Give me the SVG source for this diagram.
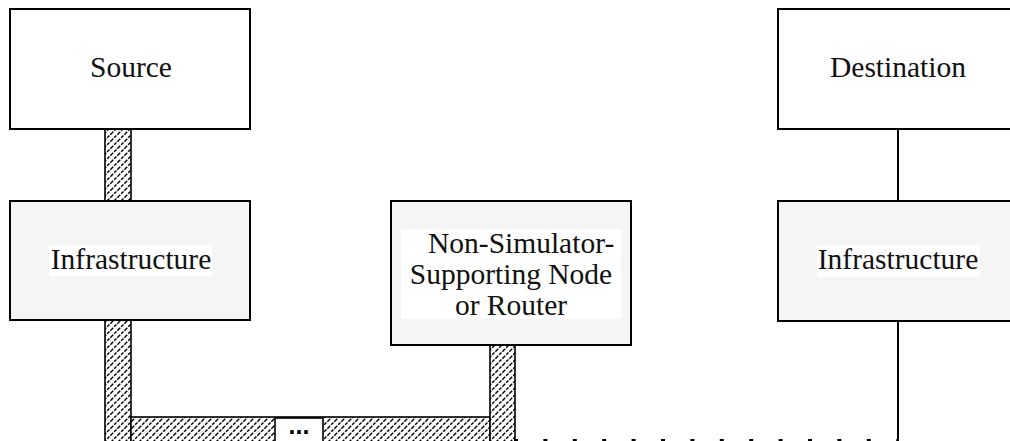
<svg xmlns="http://www.w3.org/2000/svg" width="1010" height="441" viewBox="0 0 1010 441">
  <style>
    .box { stroke: #000; stroke-width: 2; }
    .host { fill: #ffffff; }
    .infra { fill: #f5f5f5; }
    .label { font-family: "Liberation Serif", "Times New Roman", serif; font-size: 29.5px; fill: #111; }
    .mid { text-anchor: middle; }
    .labelbg { fill: #ffffff; }
    .hatch { fill: url(#diag); stroke: #000; stroke-width: 1.6; }
    .wire { stroke: #000; stroke-width: 2; fill: none; }
  </style>
  <defs>
    <!-- diagonal hatching used for the shared links -->
    <pattern id="diag" patternUnits="userSpaceOnUse" width="7" height="7">
      <rect width="7" height="7" fill="#fff"/>
      <path d="M-1,8 L8,-1 M-4.5,4.5 L4.5,-4.5 M2.5,11.5 L11.5,2.5" stroke="#000" stroke-width="1.4" stroke-dasharray="3.2 1.3"/>
    </pattern>
  </defs>

  <!-- connectors -->
  <g id="connectors">
    <rect class="hatch" x="105" y="129" width="26" height="72"/>
    <rect class="hatch" x="105" y="320" width="26" height="124"/>
    <rect class="hatch" x="131" y="417" width="359" height="27"/>
    <rect class="hatch" x="490" y="345" width="25" height="99"/>
    <g id="ellipsis">
      <rect x="275" y="418" width="48" height="26" fill="#fff" stroke="#000" stroke-width="1.6"/>
      <text x="299" y="434" text-anchor="middle" font-family="Liberation Sans, Arial, sans-serif" font-weight="bold" font-size="25">...</text>
    </g>
    <line class="wire" x1="514" y1="440" x2="898" y2="440" stroke-width="3" stroke-dasharray="4 25.4"/>
    <line class="wire" x1="898" y1="129" x2="898" y2="201"/>
    <line class="wire" x1="898" y1="321" x2="898" y2="441"/>
  </g>

  <g id="source">
    <rect class="box host" x="10" y="9" width="240" height="120"/>
    <text class="label mid" x="131" y="77">Source</text>
  </g>

  <g id="destination">
    <rect class="box host" x="778" y="9" width="240" height="120"/>
    <text class="label mid" x="898" y="77">Destination</text>
  </g>

  <g id="infra-left">
    <rect class="box infra" x="10" y="201" width="240" height="119"/>
    <rect class="labelbg" x="49" y="245" width="163" height="31"/>
    <text class="label mid" x="131" y="269">Infrastructure</text>
  </g>

  <g id="infra-right">
    <rect class="box infra" x="778" y="201" width="240" height="120"/>
    <rect class="labelbg" x="817" y="245" width="163" height="32"/>
    <text class="label mid" x="898" y="269">Infrastructure</text>
  </g>

  <g id="router">
    <rect class="box infra" x="391" y="201" width="240" height="144"/>
    <rect class="labelbg" x="401" y="229" width="220" height="90"/>
    <text class="label" x="428" y="253">Non-Simulator-</text>
    <text class="label mid" x="511" y="284">Supporting Node</text>
    <text class="label mid" x="511" y="315">or Router</text>
  </g>
</svg>
